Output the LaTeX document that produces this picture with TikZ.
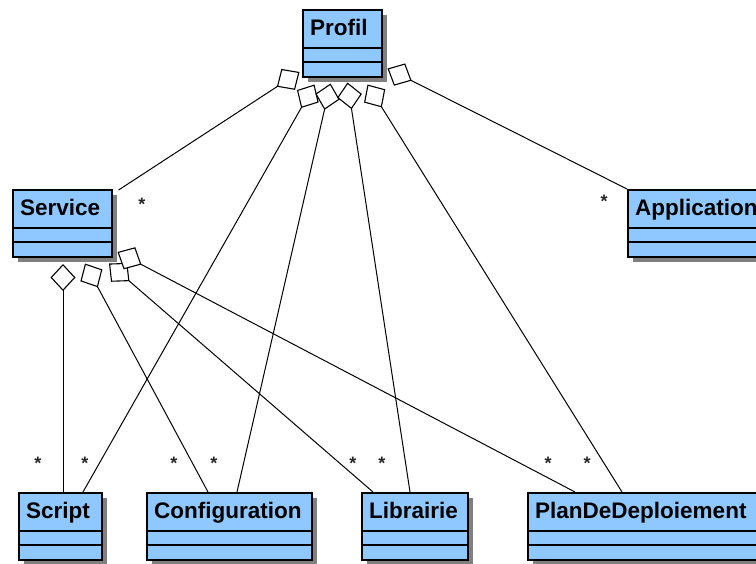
\documentclass[tikz,border=0pt]{standalone}
\usepackage{fontspec}
\setmainfont{Liberation Sans}
\usetikzlibrary{arrows.meta,calc}
\definecolor{classfill}{RGB}{143,200,255}
\definecolor{shadowgray}{RGB}{128,128,128}
\tikzset{
  classbox/.style={draw=black, line width=1.6pt, fill=classfill, inner sep=0pt, minimum height=67pt, anchor=north west},
  classname/.style={font=\bfseries\fontsize{22.5}{27}\selectfont, inner sep=0pt, anchor=base west},
  sepline/.style={line width=1.4pt},
  agg/.style={line width=1pt, {Diamond[fill=white,length=27pt,width=25pt,line width=1.1pt]}-},
  mult/.style={font=\bfseries\fontsize{18}{20}\selectfont, text=black!85, inner sep=0pt, anchor=north},
}
% name, text, x, y, width
\newcommand{\umlclass}[5]{%
  \fill[shadowgray] (#3+6,#4+6) rectangle ++(#5,67);
  \node[classbox, minimum width=#5pt] (#1) at (#3,#4) {};
  \draw[sepline] ([yshift=-39pt]#1.north west) -- ([yshift=-39pt]#1.north east);
  \draw[sepline] ([yshift=-53pt]#1.north west) -- ([yshift=-53pt]#1.north east);
  \node[classname] (#1-t) at (#3+8,#4+26) {#2};
}
\begin{document}
\begin{tikzpicture}[x=1pt,y=-1pt]
\useasboundingbox (0,0) rectangle (756,563);
\clip (0,0) rectangle (756,563);

\umlclass{profil}{Profil}{302}{9}{79}
\umlclass{service}{Service}{12}{189}{99}
\umlclass{application}{Application}{627}{189}{150}
\umlclass{script}{Script}{18}{492}{83}
\umlclass{configuration}{Configuration}{146}{492}{165}
\umlclass{librairie}{Librairie}{361}{492}{106}
\umlclass{plan}{PlanDeDeploiement}{527}{492}{250}

% aggregation start points at Profil
\coordinate (pSv) at (299.5,72);
\coordinate (pAp) at (387.5,68.5);
\coordinate (pSc) at (314.5,84.5);
\coordinate (pCf) at (330.5,83.5);
\coordinate (pLb) at (347.5,82.5);
\coordinate (pPl) at (367.5,84.5);
% aggregation start points at Service
\coordinate (sSc) at (63,264);
\coordinate (sCf) at (85,263.5);
\coordinate (sLb) at (109,263.5);
\coordinate (sPl) at (117.5,252);

\draw[agg] (pSv) -- ($(service.north east)+(6,1)$);
\draw[agg] (pAp) -- (application.north west);
\draw[agg] (pSc) -- ($(script.north west)+(65,0)$);
\draw[agg] (pCf) -- ($(configuration.north west)+(91,0)$);
\draw[agg] (pLb) -- ($(librairie.north west)+(49,0)$);
\draw[agg] (pPl) -- ($(plan.north west)+(95,0)$);

\draw[agg] (sSc) -- ($(script.north west)+(45,0)$);
\draw[agg] (sCf) -- ($(configuration.north west)+(62,0)$);
\draw[agg] (sLb) -- ($(librairie.north west)+(12,0)$);
\draw[agg] (sPl) -- ($(plan.north west)+(48,0)$);

% multiplicities
\node[mult] (mSv) at (142,198) {*};
\node[mult] (mAp) at (604,195) {*};
\node[mult] (m1) at (38,457) {*};
\node[mult] (m2) at (85,457) {*};
\node[mult] (m3) at (174,457) {*};
\node[mult] (m4) at (214,457) {*};
\node[mult] (m5) at (353,457) {*};
\node[mult] (m6) at (382,457) {*};
\node[mult] (m7) at (548,457) {*};
\node[mult] (m8) at (587,457) {*};
\end{tikzpicture}
\end{document}
